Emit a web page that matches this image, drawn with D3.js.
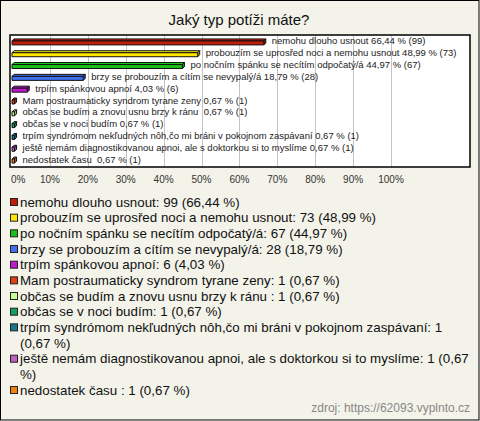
<!DOCTYPE html>
<html><head><meta charset="utf-8">
<script src="https://cdn.jsdelivr.net/npm/d3@7/dist/d3.min.js"></script>
<style>
html,body{margin:0;padding:0;background:#fff;}
svg{display:block;}
text{font-family:"Liberation Sans",Arial,sans-serif;}
</style></head>
<body>
<svg id="c" width="480" height="421"></svg>
<script>
const title = "Jaký typ potíži máte?";
const categories = [
  "nemohu dlouho usnout",
  "probouzím se uprosřed noci a nemohu usnout",
  "po nočním spánku se necítím odpočatý/á",
  "brzy se probouzím a cítím se nevypalý/á",
  "trpím spánkovou apnoí",
  "Mam postraumaticky syndrom tyrane zeny",
  "občas se budím a znovu usnu brzy k ránu ",
  "občas se v noci budím",
  "trpím syndrómom nekľudných nôh,čo mi bráni v pokojnom zaspávaní",
  "ještě nemám diagnostikovanou apnoi, ale s doktorkou si to myslíme",
  "nedostatek času "
];
const counts = [99, 73, 67, 28, 6, 1, 1, 1, 1, 1, 1];
const percents = [66.44, 48.99, 44.97, 18.79, 4.03, 0.67, 0.67, 0.67, 0.67, 0.67, 0.67];
const colors = ["#c01c0c","#ffe600","#18c018","#4070f0","#c018d0","#e04010","#c8ff90","#10a060","#187890","#c060c0","#f08010"];
const ticks = [0,10,20,30,40,50,60,70,80,90,100];
const source = "zdroj: https://62093.vyplnto.cz";

const fmt = v => v.toFixed(2).replace(".", ",");
const svg = d3.select("#c");
const W = 480, H = 421;

svg.append("rect").attr("x",0.5).attr("y",0.5).attr("width",W-1.5).attr("height",H-1.5)
  .attr("fill","#f3f3ea").attr("stroke","#000").attr("stroke-width",1);

svg.append("text").attr("x",239).attr("y",25).attr("text-anchor","middle")
  .attr("font-size",15).attr("fill","#111").text(title);

const box = {x0:10, x1:470, y0:35, y1:167};
svg.append("rect").attr("x",box.x0).attr("y",box.y0).attr("width",box.x1-box.x0).attr("height",box.y1-box.y0)
  .attr("fill","#fff");

const x = d3.scaleLinear().domain([0,100]).range([12,391]);
const y = d3.scaleBand().domain(categories).range([box.y0+1, box.y1-1]).paddingInner(0).paddingOuter(0);

// gridlines
svg.append("g").selectAll("line").data(ticks.slice(1)).join("line")
  .attr("x1",d=>Math.round(x(d))+0.5).attr("x2",d=>Math.round(x(d))+0.5)
  .attr("y1",box.y0).attr("y2",box.y1).attr("stroke","#c4c4c4").attr("stroke-width",1);

// tick labels
svg.append("g").selectAll("text").data(ticks).join("text")
  .attr("x",d=> d===0 ? 11 : x(d)).attr("y",183)
  .attr("text-anchor",d=> d===0 ? "start" : "middle")
  .attr("font-size",10).attr("fill","#333").text(d=>d+"%");

// bars (3D)
const dpt = 2, h = 4;
const bars = svg.append("g");
categories.forEach((c,i)=>{
  const x0 = x(0), x1 = x(percents[i]);
  const yT = y(c) + y.bandwidth()/2 - h/2 + 1;
  const col = d3.color(colors[i]);
  const g = bars.append("g").attr("stroke","#111").attr("stroke-width",1).attr("stroke-linejoin","round");
  g.append("path").attr("d",`M${x0},${yT}L${x0+dpt},${yT-dpt}L${x1+dpt},${yT-dpt}L${x1},${yT}Z`)
    .attr("fill",col.brighter(0.2));
  g.append("path").attr("d",`M${x1},${yT}L${x1+dpt},${yT-dpt}L${x1+dpt},${yT+h-dpt}L${x1},${yT+h}Z`)
    .attr("fill",col.darker(0.6));
  g.append("rect").attr("x",x0).attr("y",yT).attr("width",x1-x0).attr("height",h).attr("fill",col);
  svg.append("text").attr("x",x1+8).attr("y",y(c)+y.bandwidth()/2+2.5)
    .attr("font-size",9.5).attr("fill","#222").style("white-space","pre")
    .text(`${c} ${fmt(percents[i])} % (${counts[i]})`);
});

svg.append("rect").attr("x",box.x0).attr("y",box.y0).attr("width",box.x1-box.x0).attr("height",box.y1-box.y0)
  .attr("fill","none").attr("stroke","#000").attr("stroke-width",1.5);

// legend
const lh = 15.67, maxW = 453, lx = 20;
let line = 0;
const lg = svg.append("g");
categories.forEach((c,i)=>{
  const cy = 202 + line*lh;
  lg.append("rect").attr("x",10.5).attr("y",cy-3.5).attr("width",7).attr("height",7)
    .attr("fill",colors[i]).attr("stroke","#222").attr("stroke-width",1);
  const full = `${c}: ${counts[i]} (${fmt(percents[i])} %)`;
  const words = full.split(" ");
  let cur = "";
  const t = lg.append("text").attr("font-size",13.35).attr("fill","#111").style("white-space","pre");
  let ts = t.append("tspan").attr("x",lx).attr("y",cy+4.5);
  words.forEach((w,wi)=>{
    const test = wi===0 ? w : cur + " " + w;
    ts.text(test);
    if (ts.node().getComputedTextLength() > maxW && cur !== "") {
      ts.text(cur);
      line++;
      ts = t.append("tspan").attr("x",lx).attr("y",202 + line*lh + 4.5).text(w);
      cur = w;
    } else cur = test;
  });
  line++;
});

svg.append("text").attr("x",470).attr("y",412).attr("text-anchor","end")
  .attr("font-size",12).attr("fill","#888").text(source);
</script>
</body></html>
